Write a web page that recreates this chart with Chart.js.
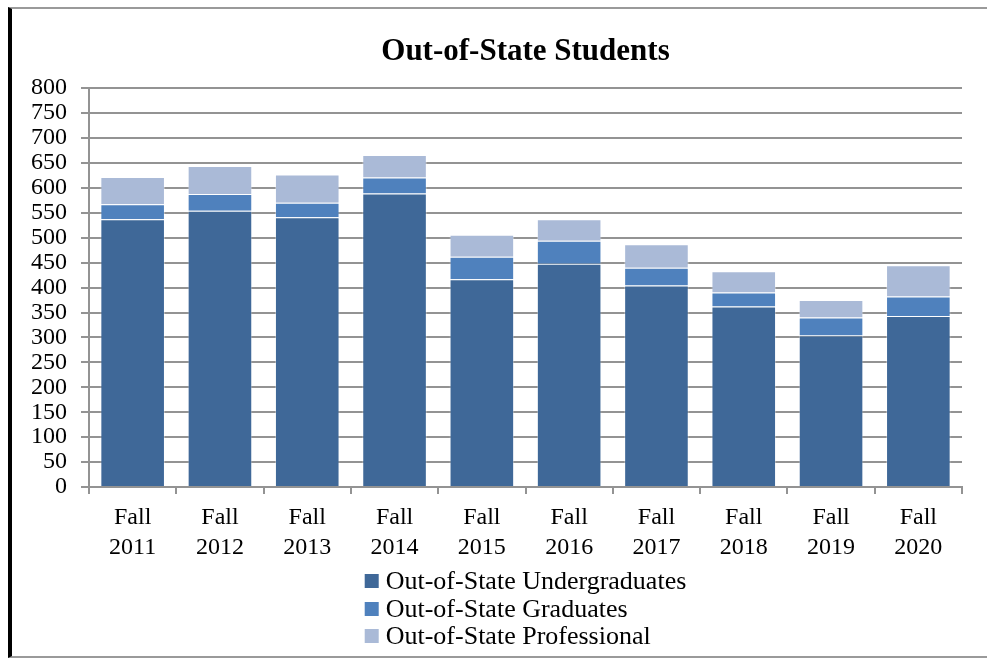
<!DOCTYPE html>
<html>
<head>
<meta charset="utf-8">
<script src="https://cdn.jsdelivr.net/npm/chart.js@4"></script>
<style>
  html, body { margin: 0; padding: 0; background: #fff; }
  #frame {
    position: absolute; left: 8px; top: 7px; width: 975px; height: 647px;
    border-left: 4px solid #000; border-top: 2px solid #9a9a9a; border-bottom: 2px solid #9a9a9a;
  }
  #wrap { position: absolute; left: 12px; top: 9px; width: 975px; height: 647px; }
</style>
</head>
<body>
<div id="frame"></div>
<div id="wrap"><canvas id="chart"></canvas></div>
<script>
// 分类与数据
const categories = ['Fall 2011', 'Fall 2012', 'Fall 2013', 'Fall 2014', 'Fall 2015',
                    'Fall 2016', 'Fall 2017', 'Fall 2018', 'Fall 2019', 'Fall 2020'];
const undergraduates = [537, 554, 541, 589, 417, 448, 404, 362, 304, 343];
const graduates = [30, 34, 29, 32, 45, 46, 36, 28, 36, 39];
const professional = [55, 56, 57, 45, 44, 43, 47, 43, 35, 63];
const seriesNames = ['Out-of-State Undergraduates', 'Out-of-State Graduates', 'Out-of-State Professional'];
const seriesColors = ['#3F6898', '#4F81BD', '#AABAD7'];

const FONT = '"Liberation Serif", "Times New Roman", serif';
const GRID = '#939393';

// 竖排图例（手绘）
const stackedLegend = {
    id: 'stackedLegend',
    afterDraw(chart) {
        const ctx = chart.ctx;
        const area = chart.chartArea;
        ctx.save();
        ctx.font = '26px ' + FONT;
        let maxW = 0;
        seriesNames.forEach(n => { maxW = Math.max(maxW, ctx.measureText(n).width); });
        const box = 14, gap = 7;
        const blockW = box + gap + maxW;
        const left = (area.left + area.right) / 2 - blockW / 2;
        const rowY = [572, 600, 627];
        ctx.textBaseline = 'middle';
        ctx.textAlign = 'left';
        seriesNames.forEach((n, i) => {
            ctx.fillStyle = seriesColors[i];
            ctx.fillRect(left, rowY[i] - box / 2, box, box);
            ctx.fillStyle = '#000';
            ctx.fillText(n, left + box + gap, rowY[i] + 1);
        });
        ctx.restore();
    }
};

new Chart(document.getElementById('chart'), {
    type: 'bar',
    data: {
        labels: categories.map(c => c.split(' ')),
        datasets: [
            { label: seriesNames[0], data: undergraduates, backgroundColor: seriesColors[0] },
            { label: seriesNames[1], data: graduates, backgroundColor: seriesColors[1] },
            { label: seriesNames[2], data: professional, backgroundColor: seriesColors[2] }
        ].map(d => Object.assign(d, {
            borderColor: 'rgba(255,255,255,0.35)',
            borderWidth: 1,
            barPercentage: 0.74,
            categoryPercentage: 1
        }))
    },
    options: {
        responsive: true,
        maintainAspectRatio: false,
        animation: false,
        layout: { padding: { left: 0, right: 25, top: 0, bottom: 94 } },
        plugins: {
            legend: { display: false },
            tooltip: { enabled: false },
            title: {
                display: true,
                text: 'Out-of-State Students',
                fullSize: false,
                color: '#000',
                font: { family: FONT, size: 31, weight: 'bold', lineHeight: 1.2 },
                padding: { top: 24, bottom: 18 }
            }
        },
        scales: {
            x: {
                stacked: true,
                afterFit(scale) { scale.height = 75; },
                grid: { display: true, drawOnChartArea: false, drawTicks: true, tickLength: 7, color: GRID, lineWidth: 2 },
                border: { display: true, color: GRID, width: 2 },
                ticks: {
                    color: '#000',
                    padding: 9,
                    maxRotation: 0,
                    autoSkip: false,
                    font: { family: FONT, size: 24, lineHeight: 1.25 }
                }
            },
            y: {
                stacked: true,
                min: 0,
                max: 800,
                afterFit(scale) { scale.width = 77; },
                grid: { color: GRID, lineWidth: 2, tickLength: 8 },
                border: { display: true, color: GRID, width: 2 },
                ticks: {
                    stepSize: 50,
                    autoSkip: false,
                    color: '#000',
                    padding: 14,
                    font: { family: FONT, size: 24 }
                }
            }
        }
    },
    plugins: [stackedLegend]
});
</script>
</body>
</html>
